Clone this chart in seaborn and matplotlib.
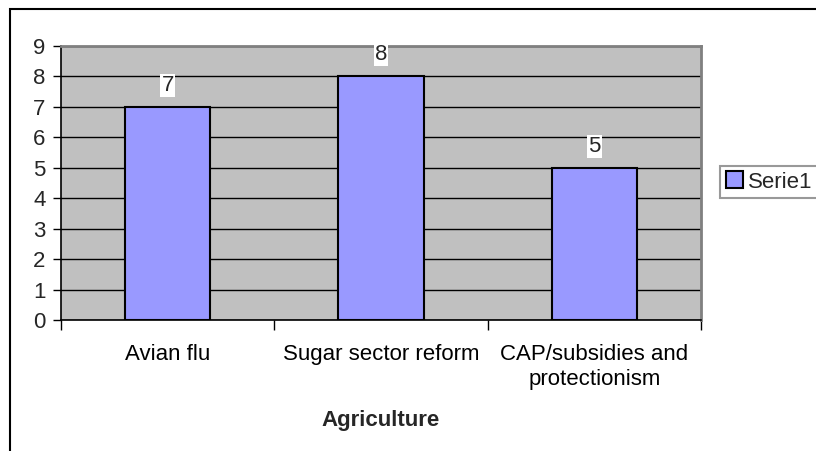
import matplotlib
matplotlib.use("Agg")
import matplotlib.pyplot as plt
from matplotlib.patches import Rectangle
import pandas as pd
import seaborn as sns

# ─── Data ────────────────────────────────────────────────────────────────
CATEGORIES = ["Avian flu", "Sugar sector reform", "CAP/subsidies and\nprotectionism"]
VALUES = [7, 8, 5]
SERIES = "Serie1"
Y_TICKS = list(range(0, 10))

BAR_COLOR = "#9999FF"
PLOT_BG = "#C0C0C0"
FS = 16

df = pd.DataFrame({"topic": CATEGORIES, "count": VALUES, "series": [SERIES] * len(VALUES)})

sns.set_theme(style="white")
plt.rcParams["font.family"] = ["Liberation Sans", "DejaVu Sans"]

fig = plt.figure(figsize=(8.16, 4.51), dpi=100)
ax = fig.add_axes([61 / 816, 1 - 320 / 451, 640 / 816, 274 / 451])
ax.set_facecolor(PLOT_BG)

sns.barplot(data=df, x="topic", y="count", hue="series", palette=[BAR_COLOR],
            width=0.4, edgecolor="black", linewidth=1.5, saturation=1,
            legend=True, ax=ax, zorder=3)

ax.set_ylim(0, 9)
ax.set_xlim(-0.5, len(CATEGORIES) - 0.5)
ax.set_yticks(Y_TICKS)
ax.yaxis.grid(True, color="black", linewidth=1, zorder=1)
ax.set_axisbelow(True)

# value labels on white boxes
for bar, v in zip(ax.patches, VALUES):
    ax.annotate(str(v), (bar.get_x() + bar.get_width() / 2, bar.get_height()),
                xytext=(0, 8), textcoords="offset points", ha="center", va="bottom",
                fontsize=FS, bbox=dict(boxstyle="square,pad=0.05", fc="white", ec="none"),
                zorder=5)

# spines like an old Excel chart
for side in ["left", "bottom"]:
    ax.spines[side].set_color("black")
    ax.spines[side].set_linewidth(1.2)
for side in ["top", "right"]:
    ax.spines[side].set_color("#808080")
    ax.spines[side].set_linewidth(2)

# category tick marks at boundaries
ax.set_xticks([i - 0.5 for i in range(len(CATEGORIES) + 1)], minor=True)
ax.tick_params(axis="x", which="major", length=0, pad=17, labelsize=FS, colors="black")
ax.tick_params(axis="x", which="minor", length=7, width=1, color="black", bottom=True)
ax.tick_params(axis="y", length=6, width=1, color="black", left=True, labelsize=FS, pad=5)
for lbl in ax.get_xticklabels():
    lbl.set_linespacing(1.25)

ax.set_xlabel("Agriculture", fontsize=FS, fontweight="bold", labelpad=15)
ax.set_ylabel("")

# legend on the right
handles, labels = ax.get_legend_handles_labels()
ax.get_legend().remove()
leg = fig.legend(handles, labels, loc="center left", bbox_to_anchor=(720 / 816, 1 - 182 / 451),
                 fontsize=FS, frameon=True, fancybox=False, edgecolor="#808080",
                 handlelength=0.8, handleheight=0.8, handletextpad=0.2, borderpad=0.25,
                 borderaxespad=0)
leg.get_frame().set_linewidth(1.5)
for h in leg.legend_handles:
    h.set_edgecolor("black")

# outer chart frame (cut off at right and bottom)
fig.add_artist(Rectangle((10 / 816, -0.1), 1.2, (1 - 9 / 451) + 0.1,
                         transform=fig.transFigure, fill=False, edgecolor="black", linewidth=1.5))

fig.savefig("out.png", dpi=100)
